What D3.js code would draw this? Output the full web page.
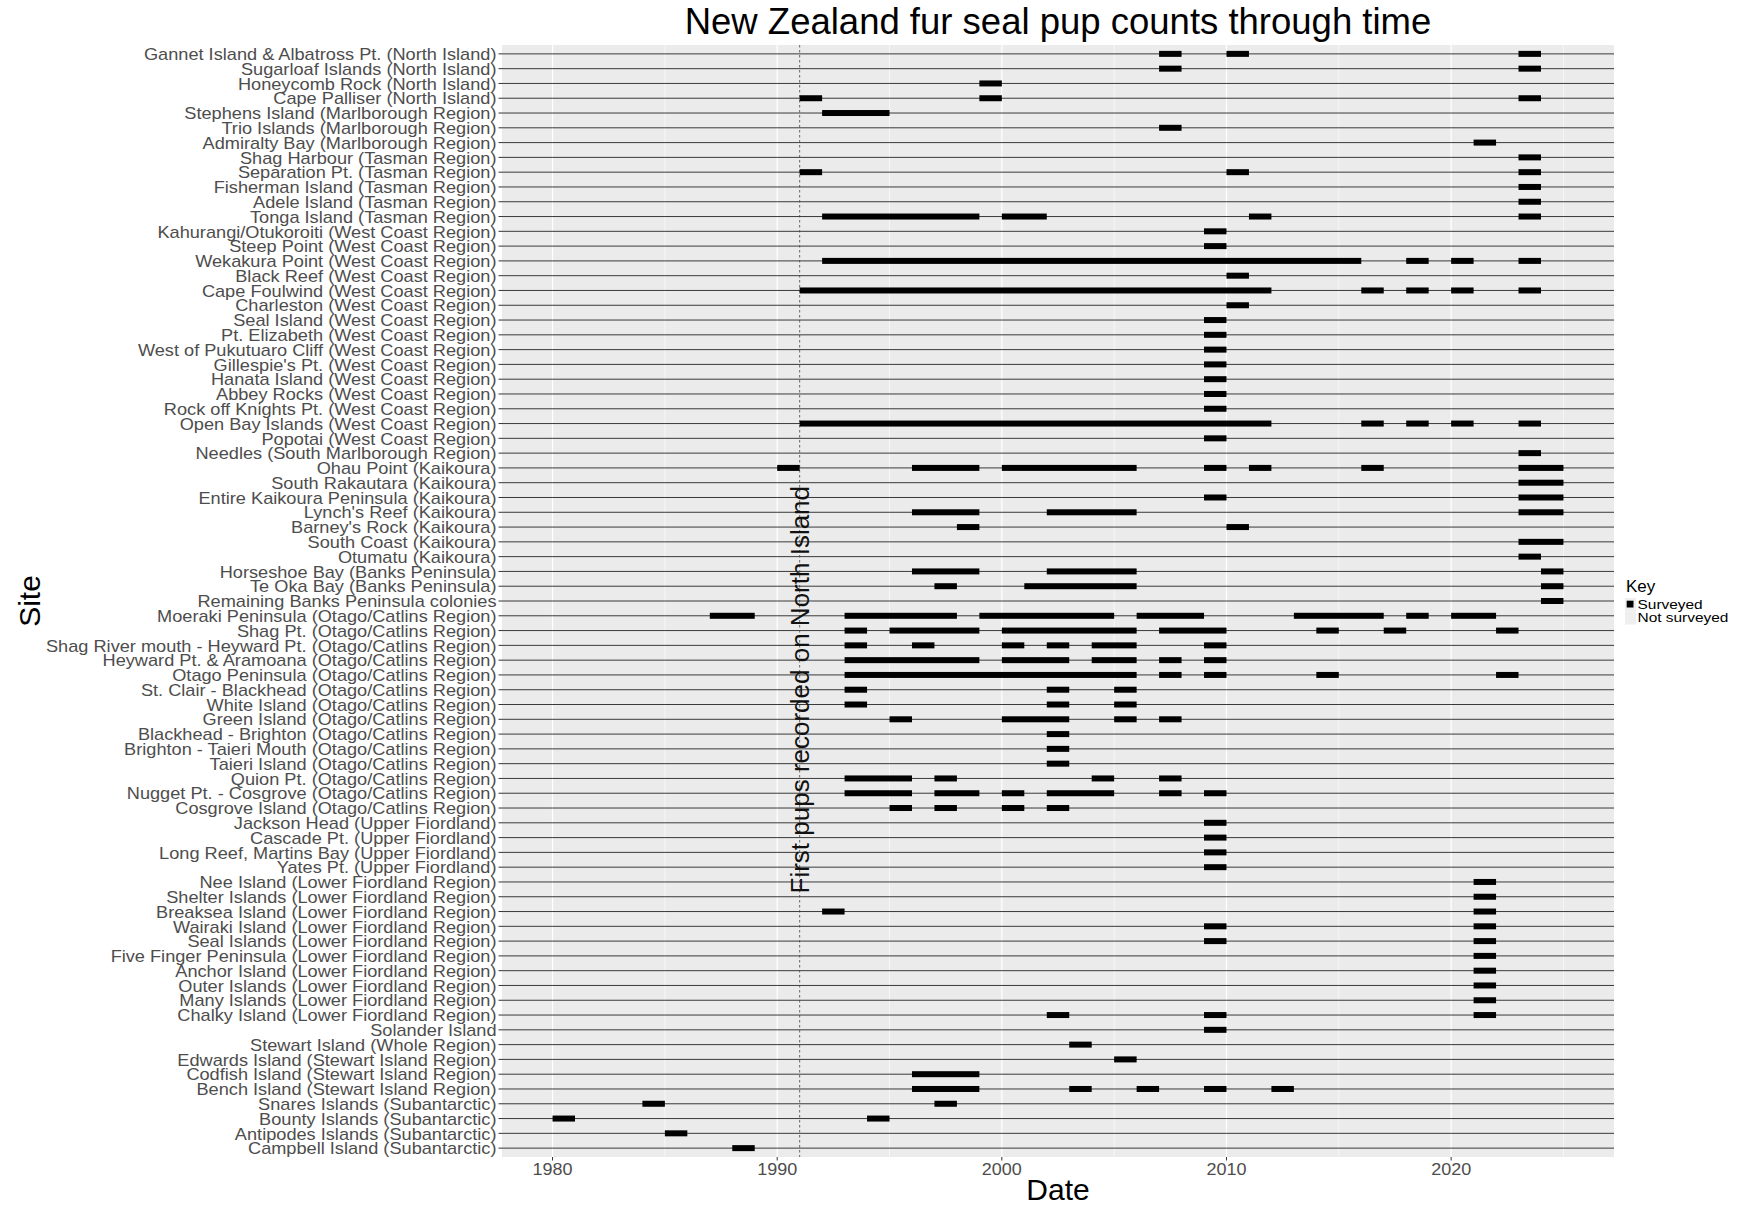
<!DOCTYPE html>
<html><head><meta charset="utf-8">
<script src="https://cdn.jsdelivr.net/npm/d3@7"></script>
<style>body{margin:0;background:#fff}svg{display:block}text{font-family:"Liberation Sans",Arial,sans-serif}</style>
</head><body><svg id="c" width="1738" height="1206"></svg>
<script>
const title = "New Zealand fur seal pup counts through time";
const xTitle = "Date";
const yTitle = "Site";
const legendTitle = "Key";
const legendLabels = ["Surveyed", "Not surveyed"];
const xMajorTicks = [1980, 1990, 2000, 2010, 2020];
const xMinorTicks = [1985, 1995, 2005, 2015, 2025];
const vlineYear = 1991;
const annotationText = "First pups recorded on North Island";
const annotationSite = "St. Clair - Blackhead (Otago/Catlins Region)";

const sites = [
"Gannet Island & Albatross Pt. (North Island)",
"Sugarloaf Islands (North Island)",
"Honeycomb Rock (North Island)",
"Cape Palliser (North Island)",
"Stephens Island (Marlborough Region)",
"Trio Islands (Marlborough Region)",
"Admiralty Bay (Marlborough Region)",
"Shag Harbour (Tasman Region)",
"Separation Pt. (Tasman Region)",
"Fisherman Island (Tasman Region)",
"Adele Island (Tasman Region)",
"Tonga Island (Tasman Region)",
"Kahurangi/Otukoroiti (West Coast Region)",
"Steep Point (West Coast Region)",
"Wekakura Point (West Coast Region)",
"Black Reef (West Coast Region)",
"Cape Foulwind (West Coast Region)",
"Charleston (West Coast Region)",
"Seal Island (West Coast Region)",
"Pt. Elizabeth (West Coast Region)",
"West of Pukutuaro Cliff (West Coast Region)",
"Gillespie's Pt. (West Coast Region)",
"Hanata Island (West Coast Region)",
"Abbey Rocks (West Coast Region)",
"Rock off Knights Pt. (West Coast Region)",
"Open Bay Islands (West Coast Region)",
"Popotai (West Coast Region)",
"Needles (South Marlborough Region)",
"Ohau Point (Kaikoura)",
"South Rakautara (Kaikoura)",
"Entire Kaikoura Peninsula (Kaikoura)",
"Lynch's Reef (Kaikoura)",
"Barney's Rock (Kaikoura)",
"South Coast (Kaikoura)",
"Otumatu (Kaikoura)",
"Horseshoe Bay (Banks Peninsula)",
"Te Oka Bay (Banks Peninsula)",
"Remaining Banks Peninsula colonies",
"Moeraki Peninsula (Otago/Catlins Region)",
"Shag Pt. (Otago/Catlins Region)",
"Shag River mouth - Heyward Pt. (Otago/Catlins Region)",
"Heyward Pt. & Aramoana (Otago/Catlins Region)",
"Otago Peninsula (Otago/Catlins Region)",
"St. Clair - Blackhead (Otago/Catlins Region)",
"White Island (Otago/Catlins Region)",
"Green Island (Otago/Catlins Region)",
"Blackhead - Brighton (Otago/Catlins Region)",
"Brighton - Taieri Mouth (Otago/Catlins Region)",
"Taieri Island (Otago/Catlins Region)",
"Quion Pt. (Otago/Catlins Region)",
"Nugget Pt. - Cosgrove (Otago/Catlins Region)",
"Cosgrove Island (Otago/Catlins Region)",
"Jackson Head (Upper Fiordland)",
"Cascade Pt. (Upper Fiordland)",
"Long Reef, Martins Bay (Upper Fiordland)",
"Yates Pt. (Upper Fiordland)",
"Nee Island (Lower Fiordland Region)",
"Shelter Islands (Lower Fiordland Region)",
"Breaksea Island (Lower Fiordland Region)",
"Wairaki Island (Lower Fiordland Region)",
"Seal Islands (Lower Fiordland Region)",
"Five Finger Peninsula (Lower Fiordland Region)",
"Anchor Island (Lower Fiordland Region)",
"Outer Islands (Lower Fiordland Region)",
"Many Islands (Lower Fiordland Region)",
"Chalky Island (Lower Fiordland Region)",
"Solander Island",
"Stewart Island (Whole Region)",
"Edwards Island (Stewart Island Region)",
"Codfish Island (Stewart Island Region)",
"Bench Island (Stewart Island Region)",
"Snares Islands (Subantarctic)",
"Bounty Islands (Subantarctic)",
"Antipodes Islands (Subantarctic)",
"Campbell Island (Subantarctic)"
];

// surveyed periods [start, end] for each site, same order as sites
const surveys = [
[[2007,2008],[2010,2011],[2023,2024]],
[[2007,2008],[2023,2024]],
[[1999,2000]],
[[1991,1992],[1999,2000],[2023,2024]],
[[1992,1995]],
[[2007,2008]],
[[2021,2022]],
[[2023,2024]],
[[1991,1992],[2010,2011],[2023,2024]],
[[2023,2024]],
[[2023,2024]],
[[1992,1999],[2000,2002],[2011,2012],[2023,2024]],
[[2009,2010]],
[[2009,2010]],
[[1992,2016],[2018,2019],[2020,2021],[2023,2024]],
[[2010,2011]],
[[1991,2012],[2016,2017],[2018,2019],[2020,2021],[2023,2024]],
[[2010,2011]],
[[2009,2010]],
[[2009,2010]],
[[2009,2010]],
[[2009,2010]],
[[2009,2010]],
[[2009,2010]],
[[2009,2010]],
[[1991,2012],[2016,2017],[2018,2019],[2020,2021],[2023,2024]],
[[2009,2010]],
[[2023,2024]],
[[1990,1991],[1996,1999],[2000,2006],[2009,2010],[2011,2012],[2016,2017],[2023,2025]],
[[2023,2025]],
[[2009,2010],[2023,2025]],
[[1996,1999],[2002,2006],[2023,2025]],
[[1998,1999],[2010,2011]],
[[2023,2025]],
[[2023,2024]],
[[1996,1999],[2002,2006],[2024,2025]],
[[1997,1998],[2001,2006],[2024,2025]],
[[2024,2025]],
[[1987,1989],[1993,1998],[1999,2005],[2006,2009],[2013,2017],[2018,2019],[2020,2022]],
[[1993,1994],[1995,1999],[2000,2006],[2007,2010],[2014,2015],[2017,2018],[2022,2023]],
[[1993,1994],[1996,1997],[2000,2001],[2002,2003],[2004,2006],[2009,2010]],
[[1993,1999],[2000,2003],[2004,2006],[2007,2008],[2009,2010]],
[[1993,2006],[2007,2008],[2009,2010],[2014,2015],[2022,2023]],
[[1993,1994],[2002,2003],[2005,2006]],
[[1993,1994],[2002,2003],[2005,2006]],
[[1995,1996],[2000,2003],[2005,2006],[2007,2008]],
[[2002,2003]],
[[2002,2003]],
[[2002,2003]],
[[1993,1996],[1997,1998],[2004,2005],[2007,2008]],
[[1993,1996],[1997,1999],[2000,2001],[2002,2005],[2007,2008],[2009,2010]],
[[1995,1996],[1997,1998],[2000,2001],[2002,2003]],
[[2009,2010]],
[[2009,2010]],
[[2009,2010]],
[[2009,2010]],
[[2021,2022]],
[[2021,2022]],
[[1992,1993],[2021,2022]],
[[2009,2010],[2021,2022]],
[[2009,2010],[2021,2022]],
[[2021,2022]],
[[2021,2022]],
[[2021,2022]],
[[2021,2022]],
[[2002,2003],[2009,2010],[2021,2022]],
[[2009,2010]],
[[2003,2004]],
[[2005,2006]],
[[1996,1999]],
[[1996,1999],[2003,2004],[2006,2007],[2009,2010],[2012,2013]],
[[1984,1985],[1997,1998]],
[[1980,1981],[1994,1995]],
[[1985,1986]],
[[1988,1989]]
];

const svg = d3.select("#c");
const P = {left: 502, right: 1614, top: 45, bottom: 1157};

const segs = [];
sites.forEach((s, i) => surveys[i].forEach(([a, b]) => segs.push({site: s, start: a, end: b})));
const ext = [d3.min(segs, d => d.start), d3.max(segs, d => d.end)];
const pad = (ext[1] - ext[0]) * 0.05;
const x = d3.scaleLinear().domain([ext[0] - pad, ext[1] + pad]).range([P.left, P.right]);
const y = d3.scalePoint().domain(sites).range([P.top, P.bottom]).padding(0.6);

// panel
svg.append("rect").attr("x", P.left).attr("y", P.top)
  .attr("width", P.right - P.left).attr("height", P.bottom - P.top).attr("fill", "#EBEBEB");

const g = svg.append("g");
g.selectAll(".minor").data(xMinorTicks).join("line")
  .attr("x1", d => x(d)).attr("x2", d => x(d)).attr("y1", P.top).attr("y2", P.bottom)
  .attr("stroke", "#fff").attr("stroke-width", 0.6);
g.selectAll(".major").data(xMajorTicks).join("line")
  .attr("x1", d => x(d)).attr("x2", d => x(d)).attr("y1", P.top).attr("y2", P.bottom)
  .attr("stroke", "#fff").attr("stroke-width", 1.2);

// row lines (not surveyed)
g.append("g").selectAll("line").data(sites).join("line")
  .attr("x1", P.left).attr("x2", P.right)
  .attr("y1", d => y(d)).attr("y2", d => y(d))
  .attr("stroke", "#1a1a1a").attr("stroke-width", 0.85);

// vline
g.append("line").attr("x1", x(vlineYear)).attr("x2", x(vlineYear))
  .attr("y1", P.top).attr("y2", P.bottom)
  .attr("stroke", "#444").attr("stroke-width", 0.8).attr("stroke-dasharray", "2.5,2.5");

// surveyed bars
const barH = 6;
g.append("g").selectAll("rect").data(segs).join("rect")
  .attr("x", d => x(d.start)).attr("width", d => x(d.end) - x(d.start))
  .attr("y", d => y(d.site) - barH / 2).attr("height", barH)
  .attr("fill", "#000");

// annotation
const ax = x(vlineYear), ay = y(annotationSite);
svg.append("text").attr("transform", `translate(${ax},${ay}) rotate(-90)`)
  .attr("text-anchor", "middle").attr("dy", "0.35em")
  .attr("font-size", 26).attr("fill", "#111").text(annotationText);

// y axis
const ya = svg.append("g");
ya.selectAll("line").data(sites).join("line")
  .attr("x1", P.left - 3.5).attr("x2", P.left).attr("y1", d => y(d)).attr("y2", d => y(d))
  .attr("stroke", "#333").attr("stroke-width", 1);
ya.selectAll("text").data(sites).join("text")
  .attr("transform", d => `translate(${P.left - 5.5},${y(d) + 6.2}) scale(1.01,0.93)`)
  .attr("text-anchor", "end").attr("font-size", 18).attr("fill", "#4D4D4D").text(d => d);

// x axis
const xa = svg.append("g");
xa.selectAll("line").data(xMajorTicks).join("line")
  .attr("x1", d => x(d)).attr("x2", d => x(d)).attr("y1", P.bottom).attr("y2", P.bottom + 3.5)
  .attr("stroke", "#333").attr("stroke-width", 1);
xa.selectAll("text").data(xMajorTicks).join("text")
  .attr("transform", d => `translate(${x(d)},${P.bottom + 17.5}) scale(1,0.9)`)
  .attr("text-anchor", "middle").attr("font-size", 18).attr("fill", "#4D4D4D").text(d => d);

// titles
svg.append("text").attr("x", (P.left + P.right) / 2).attr("y", 34)
  .attr("text-anchor", "middle").attr("font-size", 36.5).attr("fill", "#000").text(title);
svg.append("text").attr("x", (P.left + P.right) / 2).attr("y", 1200)
  .attr("text-anchor", "middle").attr("font-size", 30).attr("fill", "#000").text(xTitle);
svg.append("text").attr("transform", `translate(40,${(P.top + P.bottom) / 2}) rotate(-90)`)
  .attr("text-anchor", "middle").attr("font-size", 30).attr("fill", "#000").text(yTitle);

// legend
const lg = svg.append("g").attr("transform", "translate(1625,0)");
lg.append("text").attr("x", 1).attr("y", 592).attr("font-size", 17).attr("fill", "#000").text(legendTitle);
const keyH = 13.3;
legendLabels.forEach((lab, i) => {
  const ky = 598 + i * keyH;
  lg.append("rect").attr("x", 0).attr("y", ky).attr("width", 11).attr("height", keyH).attr("fill", "#EFEFEF");
  if (i === 0) lg.append("rect").attr("x", 1.7).attr("y", ky + 2.7).attr("width", 6.8).attr("height", 6.8).attr("fill", "#000");
  lg.append("text").attr("transform", `translate(12.5,${ky + 11}) scale(1.03,0.86)`)
    .attr("font-size", 15).attr("fill", "#000").text(lab);
});
</script></body></html>
